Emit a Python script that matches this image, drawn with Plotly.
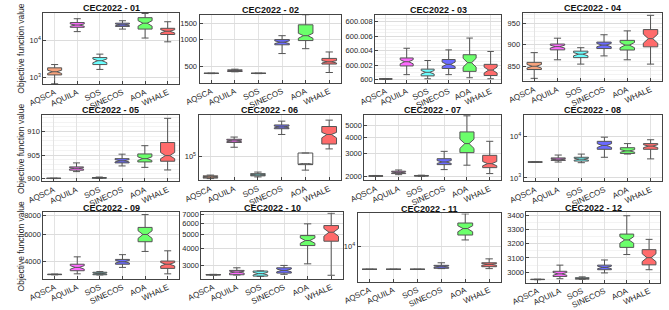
import math
import plotly.graph_objects as go

# ---------------- data ----------------
algorithms = ["AQSCA", "AQUILA", "SOS", "SINECOS", "AOA", "WHALE"]
titles = ["CEC2022 - 01", "CEC2022 - 02", "CEC2022 - 03", "CEC2022 - 04",
          "CEC2022 - 05", "CEC2022 - 06", "CEC2022 - 07", "CEC2022 - 08",
          "CEC2022 - 09", "CEC2022 - 10", "CEC2022 - 11", "CEC2022 - 12"]

low = [
    [690, 17100, 1650, 20000, 11500, 9100],
    [418, 438, 418, 699, 792, 430],
    [600.00005, 600.0007, 600.00013, 600.0007, 600.00027, 600.00013],
    [822, 865, 855, 874, 865, 855],
    [900.02, 901.5, 900.05, 902.7, 902.4, 901.85],
    [1900, 4.8e5, 2570, 4.57e6, 8500, 3.6e5],
    [1995, 2060, 2000, 2255, 2440, 2100],
    [2400, 2425, 2340, 3160, 3780, 2890],
    [3240, 3290, 3235, 3630, 4630, 3290],
    [2555, 2560, 2505, 2590, 3080, 2550],
    [2880, 2880, 2880, 3000, 14250, 3000],
    [2948, 2955, 2951, 2995.5, 3124, 3018],
]
q1 = [
    [1175, 22300, 2230, 23600, 20000, 14300],
    [420, 441, 420, 875, 975, 534],
    [600.00008, 600.0019, 600.00053, 600.00155, 600.00115, 600.00058],
    [842.5, 888, 870, 891, 887.6, 895],
    [900.05, 901.8, 900.1, 903.35, 903.55, 903.7],
    [2090, 1.12e6, 3090, 1.26e7, 22400, 8.5e5],
    [2005, 2100, 2010, 2465, 3055, 2335],
    [2415, 2650, 2560, 4920, 3910, 4920],
    [3250, 3450, 3245, 3810, 5370, 3575],
    [2565, 2572, 2515, 2644, 4165, 4475],
    [2885, 2885, 2885, 3050, 18600, 3330],
    [2949, 2971, 2952.5, 3018, 3174, 3052],
]
median = [
    [1430, 25700, 2830, 26000, 28800, 17500],
    [421, 452, 421, 935, 1105, 566],
    [600.0001, 600.00248, 600.00102, 600.00212, 600.00235, 600.00133],
    [850, 895.5, 878, 899, 899, 914],
    [900.07, 902.2, 900.18, 903.8, 904.25, 904.9],
    [2570, 1.48e6, 3630, 1.74e7, 23400, 4.57e6],
    [2012, 2145, 2020, 2585, 3590, 2510],
    [2425, 2840, 2840, 6100, 4510, 5880],
    [3260, 3630, 3305, 3960, 6000, 3810],
    [2572, 2686, 2620, 2763, 4525, 5190],
    [2890, 2890, 2890, 3330, 26500, 3775],
    [2950, 2989, 2957, 3034, 3226, 3102],
]
q3 = [
    [1820, 30000, 3440, 28800, 40500, 21000],
    [422, 460, 422, 1000, 1460, 617],
    [600.00012, 600.0030, 600.00146, 600.00279, 600.00345, 600.00212],
    [859, 901.5, 885, 906, 910, 935],
    [900.09, 902.5, 900.25, 904.25, 905.25, 907.67],
    [3090, 1.95e6, 4570, 2.45e7, 1.74e5, 1.86e7],
    [2020, 2190, 2030, 2740, 4425, 2910],
    [2435, 3050, 3160, 7670, 5380, 6760],
    [3270, 3810, 3370, 4100, 6680, 4000],
    [2580, 2763, 2735, 2885, 4910, 5795],
    [2895, 2895, 2895, 3580, 35800, 4120],
    [2951, 3007, 2961.6, 3050, 3267, 3158],
]
up = [
    [2230, 38000, 4250, 33500, 52500, 31500],
    [424, 468, 424, 1105, 1890, 728],
    [600.00015, 600.00434, 600.00265, 600.00412, 600.00575, 600.0039],
    [881.6, 915, 893, 923, 932, 968],
    [900.12, 903.35, 900.35, 905.2, 907.0, 912.8],
    [3550, 2.9e6, 6030, 4.8e7, 1.74e5, 5.75e7],
    [2030, 2240, 2040, 3125, 5900, 3740],
    [2450, 3580, 3775, 9660, 6760, 8380],
    [3280, 4265, 3405, 4410, 8130, 4675],
    [2590, 2885, 2740, 3000, 5960, 7100],
    [2900, 2900, 2900, 4120, 58700, 5100],
    [2952, 3050, 2968, 3086, 3395, 3230],
]

ytick_vals = [
    [1e3, 1e4],
    [500, 1000, 1500],
    [600, 600.002, 600.004, 600.006, 600.008],
    [850, 900, 950],
    [900, 905, 910],
    [1e5],
    [2000, 3000, 4000, 5000],
    [1e3, 1e4],
    [4000, 6000, 8000],
    [3000, 4000, 5000, 6000, 7000],
    [1e4],
    [3000, 3100, 3200, 3300, 3400],
]
ytick_text = [
    ["10<sup>3</sup>", "10<sup>4</sup>"],
    ["500", "1000", "1500"],
    ["600", "600.002", "600.004", "600.006", "600.008"],
    ["850", "900", "950"],
    ["900", "905", "910"],
    ["10<sup>5</sup>"],
    ["2000", "3000", "4000", "5000"],
    ["10<sup>3</sup>", "10<sup>4</sup>"],
    ["4000", "6000", "8000"],
    ["3000", "4000", "5000", "6000", "7000"],
    ["10<sup>4</sup>"],
    ["3000", "3100", "3200", "3300", "3400"],
]
y_log = [True, True, False, False, False, True, True, True, True, True, True, False]
y_range = [
    [2.83, 4.74], [2.518, 3.277], [599.99956, 600.00898], [816, 974],
    [899.45, 913.5], [3.15, 8.15], [3.27, 3.777], [2.92, 4.52],
    [3.485, 3.924], [3.382, 3.857], [3.17, 4.78], [2928, 3418],
]

# ---------------- style ----------------
colors = ["#F6A27C", "#FF6BFF", "#6BFFFF", "#6B6BFF", "#6BFF6B", "#FF6B6B"]
W, H = 669, 310
# panel boxes in pixels: left, right, top, bottom
boxes = [
    (28, 167, 10, 83), (188, 333, 12, 82), (368, 497, 12, 82), (519, 662, 10, 80),
    (27, 167, 115, 183), (187, 333, 115, 182), (357, 497, 115, 182), (520, 662, 115, 183),
    (28, 167, 215, 283), (190, 335, 215, 283), (350, 497, 216, 286), (523, 660, 215, 287),
]
FONT = "Liberation Sans, Arial, sans-serif"
TXT = "#262626"


def log_minor(rng, decades_only=False):
    vals = []
    for d in range(int(math.floor(rng[0])) - 1, int(math.ceil(rng[1])) + 1):
        ks = [1] if decades_only else range(2, 10)
        for k in ks:
            v = k * 10 ** d
            if rng[0] < math.log10(v) < rng[1]:
                vals.append(v)
    return vals


fig = go.Figure()
layout = {}
annotations = []
shapes = []
for p in range(12):
    xa = "x" if p == 0 else f"x{p+1}"
    ya = "y" if p == 0 else f"y{p+1}"
    for a, alg in enumerate(algorithms):
        m, lo, hi = median[p][a], q1[p][a], q3[p][a]
        ns = 0.55 * min(m - lo, hi - m)
        fill = colors[a]
        if p == 5 and alg == "AOA":
            fill = "#FFFFFF"
        fig.add_trace(go.Box(
            x=[alg], q1=[lo], median=[m], q3=[hi],
            lowerfence=[low[p][a]], upperfence=[up[p][a]],
            notched=True, notchspan=[ns], notchwidth=0.35,
            width=0.62, whiskerwidth=0.5,
            fillcolor=fill, line=dict(color="#555555", width=1),
            boxpoints=False, showlegend=False, hoverinfo="skip",
            xaxis=xa, yaxis=ya,
        ))
    l, r, t, b = boxes[p]
    xkey = "xaxis" if p == 0 else f"xaxis{p+1}"
    ykey = "yaxis" if p == 0 else f"yaxis{p+1}"
    layout[xkey] = dict(
        domain=[l / W, r / W], anchor=ya, type="category",
        categoryorder="array", categoryarray=algorithms, range=[-0.5, 5.5],
        tickangle=-25, tickfont=dict(size=8, color=TXT, family=FONT),
        showgrid=True, gridcolor="#e3e3e3", gridwidth=1,
        showline=True, mirror=True, linecolor="#444444", linewidth=1,
        ticks="inside", ticklen=3, tickcolor="#444444", zeroline=False,
    )
    yax = dict(
        domain=[1 - b / H, 1 - t / H], anchor=xa,
        type="log" if y_log[p] else "linear", range=y_range[p],
        tickmode="array", tickvals=ytick_vals[p], ticktext=ytick_text[p],
        tickfont=dict(size=7.5, color=TXT, family=FONT),
        showgrid=True, gridcolor="#dcdcdc", gridwidth=1,
        showline=True, mirror=True, linecolor="#444444", linewidth=1,
        ticks="inside", ticklen=3, tickcolor="#444444", zeroline=False,
    )
    if y_log[p]:
        for v in log_minor(y_range[p], decades_only=(p == 5)):
            if v in ytick_vals[p]:
                continue
            shapes.append(dict(
                type="line", xref=f"{xa} domain", yref=ya,
                x0=0, x1=1, y0=math.log10(v), y1=math.log10(v),
                line=dict(color="#f7f7f7", width=1), layer="below",
            ))
    else:
        yax["minor"] = dict(showgrid=True, gridcolor="#f3f3f3", ticks="", nticks=4)
    layout[ykey] = yax
    annotations.append(dict(
        text="<b>" + titles[p] + "</b>", x=(l + r) / 2 / W, y=1 - (t - 5) / H,
        xref="paper", yref="paper", xanchor="center", yanchor="middle",
        showarrow=False, font=dict(size=9, color="#111111", family=FONT),
    ))

for row_c in [46, 149, 249]:
    annotations.append(dict(
        text="Objective function value", x=5 / W, y=1 - row_c / H,
        xref="paper", yref="paper", xanchor="center", yanchor="middle",
        textangle=-90, showarrow=False,
        font=dict(size=8.5, color=TXT, family=FONT),
    ))

fig.update_layout(
    width=W, height=H, margin=dict(l=0, r=0, t=0, b=0),
    paper_bgcolor="white", plot_bgcolor="white",
    annotations=annotations, shapes=shapes, boxmode="overlay", **layout,
)
fig.write_html("out.html")
